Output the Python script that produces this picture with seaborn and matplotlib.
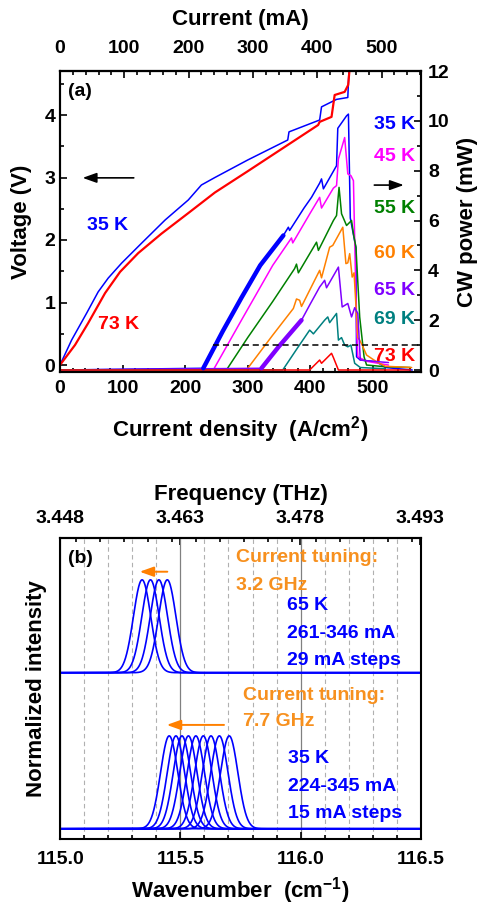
import numpy as np
import pandas as pd
import seaborn as sns
import matplotlib.pyplot as plt
from matplotlib.ticker import MultipleLocator, AutoMinorLocator, FormatStrFormatter

# ---------------- panel (a): LIV data ----------------
# voltage vs current density (A/cm2)
j_v35 = [0, 18.6, 42.6, 61, 77, 98.5, 130.5, 168, 205, 226, 247.6, 300, 364, 366, 415, 418, 442, 460, 462, 470]
v_35 = [0.0, 0.4, 0.83, 1.17, 1.39, 1.63, 1.95, 2.32, 2.64, 2.88, 3.0, 3.28, 3.6, 3.73, 3.92, 4.13, 4.25, 4.28, 4.75, 5.2]
j_v73 = [0, 24, 45, 72, 96, 125, 162, 205, 247.6, 300, 412.6, 415, 434, 439, 455, 460.6, 463, 470]
v_73 = [0.0, 0.32, 0.67, 1.15, 1.49, 1.79, 2.1, 2.43, 2.76, 3.1, 3.84, 3.89, 3.97, 4.32, 4.37, 4.48, 4.75, 5.2]

# CW power (mW) vs current density, one list pair per heat-sink temperature
j_35 = [0, 229, 260, 290, 320, 357, 365, 367, 390, 402, 415, 418, 421, 442, 444, 458, 461, 464, 473, 474, 480, 506, 520, 563]
p_35 = [0, 0.07, 1.55, 2.9, 4.2, 5.4, 5.73, 5.6, 6.5, 6.93, 7.5, 7.67, 7.27, 8.2, 9.7, 10.2, 10.27, 6.1, 4.9, 0.53, 0.4, 0.33, 0.1, 0.0]
j_45 = [0, 245, 290, 340, 370, 372, 400, 415, 418, 437, 442, 445, 455, 460, 465, 469, 474, 476, 490, 525]
p_45 = [0, 0, 2.0, 4.2, 5.3, 5.1, 6.3, 6.93, 6.5, 7.3, 7.4, 8.47, 9.33, 7.87, 7.8, 7.6, 1.73, 0.53, 0.35, 0.2]
j_55 = [0, 266, 300, 340, 375, 378, 381, 410, 413, 437, 442, 446, 450, 458, 466, 469, 473, 479, 486, 490, 520, 560]
p_55 = [0, 0, 1.3, 2.75, 4.07, 4.25, 3.9, 5.13, 4.8, 6.0, 6.2, 7.33, 6.27, 5.8, 6.0, 5.47, 4.93, 2.13, 0.53, 0.2, 0.13, 0.1]
j_60 = [0, 298, 340, 373, 378, 383, 386, 415, 418, 431, 436, 452, 457, 460, 463, 467, 470, 476, 479, 483, 490, 506, 520, 562]
p_60 = [0, 0, 1.4, 2.47, 2.85, 2.8, 2.55, 4.0, 3.7, 4.93, 5.0, 5.73, 4.27, 4.3, 4.67, 3.73, 3.9, 1.3, 1.2, 1.0, 0.6, 0.33, 0.15, 0.1]
j_65 = [0, 322, 350, 386, 400, 415, 423, 426, 445, 451, 460, 466, 471, 476, 480, 500, 525]
p_65 = [0, 0.07, 0.95, 2.0, 2.65, 3.33, 3.6, 3.3, 4.13, 2.53, 2.67, 2.13, 2.5, 2.27, 0.4, 0.35, 0.3]
j_69 = [0, 356, 380, 399, 402, 405, 423, 428, 431, 442, 445, 450, 455, 460, 465, 471, 480, 520]
p_69 = [0, 0, 0.9, 1.6, 1.53, 1.45, 2.0, 2.13, 1.9, 2.27, 1.2, 1.3, 1.0, 0.93, 1.0, 0.27, 0.1, 0.05]
j_73 = [0, 399, 415, 418, 434, 437, 445, 560]
p_73 = [0, 0, 0.4, 0.27, 0.67, 0.5, 0.0, 0.0]

temps = ['35 K', '45 K', '55 K', '60 K', '65 K', '69 K', '73 K']
colors = ['#0000ff', '#ff00ff', '#008000', '#ff8000', '#8000ff', '#008080', '#ff0000']
j_lists = [j_35, j_45, j_55, j_60, j_65, j_69, j_73]
p_lists = [p_35, p_45, p_55, p_60, p_65, p_69, p_73]
label_y = [0.821, 0.715, 0.544, 0.395, 0.272, 0.173, 0.051]

current_ticks = [0, 100, 200, 300, 400, 500]
area_k = 0.973          # mA per (A/cm2)
thr_power = 1.0         # dashed reference level (mW)
thr_start = 245

# ---------------- panel (b): spectra ----------------
peaks_65K = [115.340, 115.375, 115.410, 115.445]
peaks_35K = [115.453, 115.481, 115.506, 115.533, 115.564, 115.595, 115.627, 115.662, 115.703]
line_sigma = 0.036
offset_65K = 1.68
thz_per_wn = 0.029983
freq_ticks = [3.448, 3.463, 3.478, 3.493]

sns.set_theme(style='ticks', rc={'axes.edgecolor': 'black', 'text.color': 'black',
                                 'axes.labelcolor': 'black', 'xtick.color': 'black',
                                 'ytick.color': 'black'})
plt.rcParams['font.family'] = ['Liberation Sans', 'DejaVu Sans']
plt.rcParams['font.weight'] = 'bold'
plt.rcParams['axes.labelweight'] = 'bold'
plt.rcParams['mathtext.fontset'] = 'custom'
plt.rcParams['mathtext.rm'] = 'Liberation Sans:bold'
plt.rcParams['mathtext.bf'] = 'Liberation Sans:bold'

fig = plt.figure(figsize=(4.79, 9.07), dpi=100)
ax_a = fig.add_axes([60 / 479, 1 - 372 / 907, 361 / 479, 301 / 907])
ax_b = fig.add_axes([60 / 479, 1 - 839 / 907, 361 / 479, 301 / 907])

# ---- voltage curves
sns.lineplot(x=j_v35, y=v_35, color='#0000ff', lw=1.1, sort=False, estimator=None, ax=ax_a)
sns.lineplot(x=j_v73, y=v_73, color='#ff0000', lw=1.6, sort=False, estimator=None, ax=ax_a)
ax_a.set_xlim(0, 577)
ax_a.set_ylim(-0.112, 4.704)

# ---- power curves
ax_p = ax_a.twinx()
df_li = pd.concat([pd.DataFrame({'J': j, 'P': p, 'T': t})
                   for j, p, t in zip(j_lists, p_lists, temps)], ignore_index=True)
sns.lineplot(data=df_li, x='J', y='P', hue='T', palette=dict(zip(temps, colors)),
             sort=False, estimator=None, legend=False, lw=1.1, ax=ax_p)
# dense noisy parts near threshold look thicker
for t, lo, hi in [('35 K', 229, 357), ('65 K', 322, 386)]:
    seg = df_li[(df_li['T'] == t) & (df_li['J'] >= lo) & (df_li['J'] <= hi)]
    sns.lineplot(data=seg, x='J', y='P', color=colors[temps.index(t)], lw=3.2,
                 sort=False, estimator=None, ax=ax_p)
ax_p.plot([thr_start, 577], [thr_power, thr_power], ls=(0, (4, 2.5)), color='black', lw=1.1)
ax_p.set_ylim(-0.08, 12)
ax_p.set_xlim(0, 577)

for t, c, yy in zip(temps, colors, label_y):
    ax_a.text(0.983, yy, t, color=c, fontsize=14, fontweight='bold', ha='right', va='center',
              transform=ax_a.transAxes)
ax_a.text(0.022, 0.931, '(a)', fontsize=14, fontweight='bold', ha='left', va='center',
          transform=ax_a.transAxes)
ax_a.text(0.133, 0.488, '35 K', color='#0000ff', fontsize=14, fontweight='bold', ha='center',
          va='center', transform=ax_a.transAxes)
ax_a.text(0.161, 0.159, '73 K', color='#ff0000', fontsize=14, fontweight='bold', ha='center',
          va='center', transform=ax_a.transAxes)
arrow_kw = dict(arrowstyle='-|>,head_length=0.7,head_width=0.25', color='black', lw=1.2)
ax_a.annotate('', xy=(0.055, 0.645), xytext=(0.212, 0.645), xycoords='axes fraction',
              arrowprops=arrow_kw)
ax_a.annotate('', xy=(0.960, 0.621), xytext=(0.863, 0.621), xycoords='axes fraction',
              arrowprops=arrow_kw)

ax_a.set_xlabel(r'Current density  (A/cm$\mathbf{^{2}}$)', fontsize=16, labelpad=12)
ax_a.set_ylabel('Voltage (V)', fontsize=16, labelpad=9)
ax_p.set_ylabel('CW power (mW)', fontsize=16, labelpad=5)
ax_a.xaxis.set_major_locator(MultipleLocator(100))
ax_a.xaxis.set_minor_locator(AutoMinorLocator(5))
ax_a.yaxis.set_major_locator(MultipleLocator(1))
ax_a.yaxis.set_minor_locator(MultipleLocator(0.5))
ax_p.yaxis.set_major_locator(MultipleLocator(2))
ax_p.yaxis.set_minor_locator(MultipleLocator(1))

sec_a = ax_a.secondary_xaxis('top', functions=(lambda j: j * area_k, lambda i: i / area_k))
sec_a.set_xticks(current_ticks)
sec_a.xaxis.set_minor_locator(MultipleLocator(20))
sec_a.set_xlabel('Current (mA)', fontsize=16, labelpad=11)

# ---- spectra
wn = np.linspace(115.0, 116.5, 1501)
rows = []
for k, c0 in enumerate(peaks_35K):
    rows.append(pd.DataFrame({'wn': wn, 'I': np.exp(-0.5 * ((wn - c0) / line_sigma) ** 2),
                              'trace': 'b%d' % k}))
for k, c0 in enumerate(peaks_65K):
    rows.append(pd.DataFrame({'wn': wn, 'I': offset_65K + np.exp(-0.5 * ((wn - c0) / line_sigma) ** 2),
                              'trace': 'a%d' % k}))
df_sp = pd.concat(rows, ignore_index=True)
sns.lineplot(data=df_sp, x='wn', y='I', units='trace', estimator=None, color='#0000ff',
             lw=1.2, ax=ax_b)
ax_b.set_xlim(114.998, 116.502)
ax_b.set_ylim(-0.11, 3.13)
ax_b.xaxis.set_major_locator(MultipleLocator(0.5))
ax_b.xaxis.set_minor_locator(MultipleLocator(0.1))
ax_b.xaxis.set_major_formatter(FormatStrFormatter('%.1f'))
ax_b.grid(which='minor', axis='x', ls=(0, (4, 3)), color='#b0b0b0', lw=0.8)
ax_b.grid(which='major', axis='x', ls='-', color='#808080', lw=0.9)
ax_b.set_axisbelow(True)
ax_b.set_yticks([])
ax_b.set_xlabel(r'Wavenumber  (cm$\mathbf{^{-1}}$)', fontsize=16, labelpad=5)
ax_b.set_ylabel('Normalized intensity', fontsize=16, labelpad=9)

sec_b = ax_b.secondary_xaxis('top', functions=(lambda w: w * thz_per_wn, lambda f: f / thz_per_wn))
sec_b.set_xticks(freq_ticks)
sec_b.xaxis.set_major_formatter(FormatStrFormatter('%.3f'))
sec_b.xaxis.set_minor_locator(MultipleLocator(0.003))
sec_b.set_xlabel('Frequency (THz)', fontsize=16, labelpad=7)

orange = '#f7901e'
arrow_b = dict(arrowstyle='-|>,head_length=0.7,head_width=0.25', color='#ff8000', lw=1.4)
ax_b.annotate('', xy=(0.213, 0.888), xytext=(0.305, 0.888), xycoords='axes fraction',
              arrowprops=arrow_b)
ax_b.annotate('', xy=(0.288, 0.379), xytext=(0.462, 0.379), xycoords='axes fraction',
              arrowprops=arrow_b)
txt_b = [('(b)', 0.022, 0.931, 'black'),
         ('Current tuning:', 0.488, 0.934, orange), ('3.2 GHz', 0.488, 0.841, orange),
         ('65 K', 0.629, 0.775, '#0000ff'), ('261-346 mA', 0.629, 0.684, '#0000ff'),
         ('29 mA steps', 0.629, 0.592, '#0000ff'),
         ('Current tuning:', 0.507, 0.478, orange), ('7.7 GHz', 0.507, 0.390, orange),
         ('35 K', 0.632, 0.269, '#0000ff'), ('224-345 mA', 0.632, 0.174, '#0000ff'),
         ('15 mA steps', 0.632, 0.086, '#0000ff')]
for s, xx, yy, c in txt_b:
    ax_b.text(xx, yy, s, color=c, fontsize=14, fontweight='bold', ha='left', va='center',
              transform=ax_b.transAxes)

for ax in [ax_a, ax_p, ax_b]:
    for sp in ax.spines.values():
        sp.set_linewidth(1.5)
ax_a.tick_params(axis='both', which='both', direction='in', width=1.2, labelsize=14)
ax_a.tick_params(which='major', length=5)
ax_a.tick_params(which='minor', length=3)
ax_a.tick_params(axis='x', pad=6)
ax_p.tick_params(axis='y', which='both', direction='in', width=1.2, labelsize=14, pad=5)
ax_p.tick_params(which='major', length=5)
ax_p.tick_params(which='minor', length=3)
ax_b.tick_params(axis='x', which='both', direction='in', width=1.2, labelsize=14, pad=9)
ax_b.tick_params(which='major', length=5)
ax_b.tick_params(which='minor', length=3)
for s, pd_ in [(sec_a, 10), (sec_b, 8)]:
    s.tick_params(axis='x', which='both', direction='in', width=1.2, labelsize=14, pad=pd_)
    s.tick_params(which='major', length=5)
    s.tick_params(which='minor', length=3)
    s.spines['top'].set_linewidth(1.5)

fig.savefig('out.png', dpi=100)
